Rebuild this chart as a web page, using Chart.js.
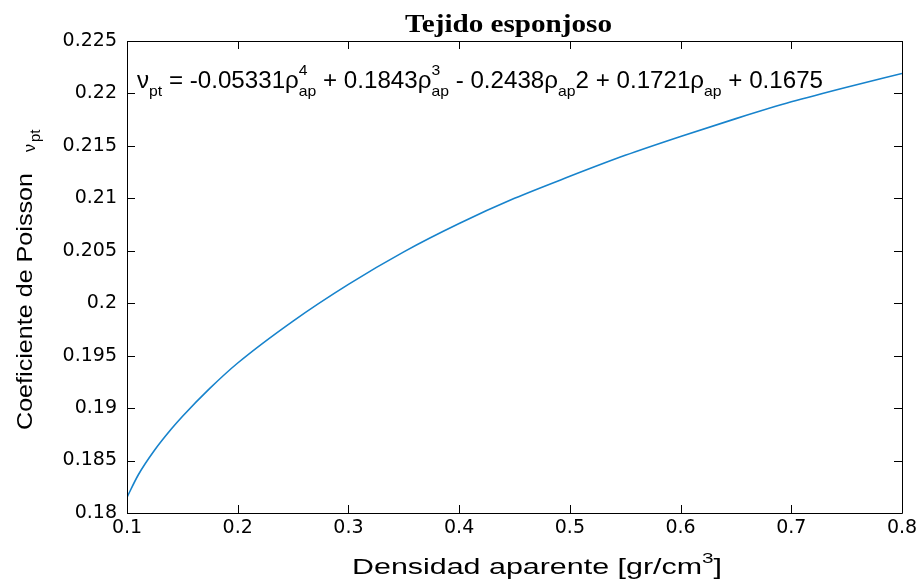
<!DOCTYPE html>
<html><head><meta charset="utf-8">
<script src="https://cdn.jsdelivr.net/npm/chart.js@4"></script>
<style>html,body{margin:0;padding:0;background:#fff}#wrap{width:916px;height:581px}</style>
</head><body><div id="wrap"><canvas id="c" width="916" height="581"></canvas></div>
<script>
// ---- data ----
const densidad = [0.10, 0.11, 0.125, 0.14, 0.15, 0.175, 0.20, 0.25, 0.30, 0.35, 0.40, 0.45, 0.50, 0.55, 0.60, 0.65, 0.70, 0.75, 0.80];
const poisson  = [0.1815, 0.1836, 0.1860, 0.1880, 0.1892, 0.1919, 0.1943, 0.1983, 0.2018, 0.2049, 0.2076, 0.2100, 0.2121, 0.2141, 0.2159, 0.2176, 0.2192, 0.2206, 0.2219];
const xTickValues = [0.1, 0.2, 0.3, 0.4, 0.5, 0.6, 0.7, 0.8];
const yTickValues = [0.18, 0.185, 0.19, 0.195, 0.2, 0.205, 0.21, 0.215, 0.22, 0.225];
const chartTitle = 'Tejido esponjoso';
const xTitleParts = ['Densidad aparente [gr/cm', '3', ']'];
const yTitleParts = ['Coeficiente de Poisson', 'ν', 'pt'];
const equationParts = [
  {t:'ν'}, {sub:'pt'}, {t:' = -0.05331'}, {t:'ρ'}, {sub:'ap', sup:'4'},
  {t:' + 0.1843'}, {t:'ρ'}, {sub:'ap', sup:'3'}, {t:' - 0.2438'}, {t:'ρ'}, {sub:'ap'},
  {t:'2 + 0.1721'}, {t:'ρ'}, {sub:'ap'}, {t:' + 0.1675'}
];

const SANS = '"Liberation Sans", Arial, sans-serif';

function drawFitted(ctx, items, x, y, targetW, mainFont, smallFont, subDy, supDy) {
  ctx.save();
  const widths = items.map(it => {
    if (it.t !== undefined) { ctx.font = mainFont; return ctx.measureText(it.t).width; }
    ctx.font = smallFont;
    return Math.max(it.sub ? ctx.measureText(it.sub).width : 0, it.sup ? ctx.measureText(it.sup).width : 0);
  });
  const total = widths.reduce((a, b) => a + b, 0);
  const s = targetW / total;
  ctx.translate(x, y);
  ctx.scale(s, 1);
  ctx.fillStyle = '#000';
  ctx.textBaseline = 'alphabetic';
  ctx.textAlign = 'left';
  let cx = 0;
  items.forEach((it, i) => {
    if (it.t !== undefined) { ctx.font = mainFont; ctx.fillText(it.t, cx, 0); }
    else {
      ctx.font = smallFont;
      if (it.sub) ctx.fillText(it.sub, cx, subDy);
      if (it.sup) ctx.fillText(it.sup, cx, supDy);
    }
    cx += widths[i];
  });
  ctx.restore();
}

const framePlugin = {
  id: 'frame',
  afterDraw(chart) {
    const ctx = chart.ctx, a = chart.chartArea;
    const xs = chart.scales.x, ys = chart.scales.y;
    ctx.save();
    ctx.strokeStyle = '#000';
    ctx.lineWidth = 1;
    ctx.beginPath();
    ctx.rect(Math.round(a.left) + 0.5, Math.round(a.top) + 0.5, Math.round(a.right - a.left), Math.round(a.bottom - a.top));
    const TL = 8;
    xTickValues.forEach(v => {
      const px = Math.round(xs.getPixelForValue(v)) + 0.5;
      ctx.moveTo(px, a.bottom); ctx.lineTo(px, a.bottom - TL);
      ctx.moveTo(px, a.top); ctx.lineTo(px, a.top + TL);
    });
    yTickValues.forEach(v => {
      const py = Math.round(ys.getPixelForValue(v)) + 0.5;
      ctx.moveTo(a.left, py); ctx.lineTo(a.left + TL, py);
      ctx.moveTo(a.right, py); ctx.lineTo(a.right - TL, py);
    });
    ctx.stroke();
    ctx.restore();

    // title
    drawFitted(ctx, [{t: chartTitle}], 405, 32, 207, 'bold 26px "Liberation Serif", "Times New Roman", serif', '', 0, 0);
    // fit equation
    drawFitted(ctx, equationParts, 137, 88, 686, '23px ' + SANS, '15px ' + SANS, 8, -13);
    // x axis title
    drawFitted(ctx, [{t: xTitleParts[0]}, {sup: xTitleParts[1]}, {t: xTitleParts[2]}], 352, 574, 370, '22px ' + SANS, '15px ' + SANS, 8, -11);
    // y axis title (rotated)
    ctx.save();
    ctx.translate(32, 430);
    ctx.rotate(-Math.PI / 2);
    drawFitted(ctx, [{t: yTitleParts[0]}], 0, 0, 257, '22px ' + SANS, '', 0, 0);
    ctx.fillStyle = '#000';
    ctx.textAlign = 'left';
    ctx.textBaseline = 'alphabetic';
    ctx.font = '16px ' + SANS;
    ctx.fillText(yTitleParts[1], 278, 3);
    ctx.font = '15px ' + SANS;
    ctx.fillText(yTitleParts[2], 288, 8);
    ctx.restore();
  }
};

const tickFont = {family: '"DejaVu Sans", sans-serif', size: 19};
const fmt = v => String(+Number(v).toFixed(3));

new Chart(document.getElementById('c'), {
  type: 'scatter',
  data: {
    datasets: [{
      data: densidad.map((x, i) => ({x, y: poisson[i]})),
      showLine: true,
      borderColor: '#1783cc',
      borderWidth: 1.6,
      pointRadius: 0,
      cubicInterpolationMode: 'monotone',
      fill: false
    }]
  },
  options: {
    responsive: false,
    devicePixelRatio: 1,
    animation: false,
    layout: {padding: {top: 41, right: 14, left: 0, bottom: 0}},
    plugins: {legend: {display: false}, tooltip: {enabled: false}, title: {display: false}},
    scales: {
      x: {
        type: 'linear', min: 0.1, max: 0.8,
        afterBuildTicks: s => { s.ticks = xTickValues.map(v => ({value: v})); },
        afterFit: s => { s.height = 68; s.paddingLeft = 0; s.paddingRight = 0; },
        grid: {display: false, drawTicks: false},
        border: {display: false},
        ticks: {font: tickFont, color: '#000', padding: 4, maxRotation: 0, autoSkip: false, callback: fmt}
      },
      y: {
        type: 'linear', min: 0.18, max: 0.225,
        afterBuildTicks: s => { s.ticks = yTickValues.map(v => ({value: v})); },
        afterFit: s => { s.width = 127; s.paddingTop = 0; s.paddingBottom = 0; },
        grid: {display: false, drawTicks: false},
        border: {display: false},
        ticks: {font: tickFont, color: '#000', padding: 10, autoSkip: false, callback: fmt}
      }
    }
  },
  plugins: [framePlugin]
});
</script>
</body></html>
